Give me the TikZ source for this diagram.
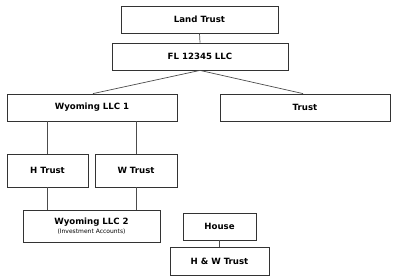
\documentclass[tikz,border=0pt]{standalone}
\usepackage{fontspec}
\setmainfont{DejaVu Sans}
\tikzset{
  entity/.style={draw=black!80, line width=0.8pt, fill=white, font=\fontsize{8.6}{10}\selectfont\bfseries, align=center, inner sep=0pt},
  link/.style={draw=black!70, line width=0.7pt}
}
\begin{document}
\begin{tikzpicture}[x=1pt, y=-1pt]
	\useasboundingbox (0, 0) rectangle (400, 279);
	\node[entity, minimum width=157pt, minimum height=27pt] (land) at (199.5, 19.5) {Land Trust};
	\node[entity, minimum width=176pt, minimum height=27pt] (fl) at (200, 56.5) {FL 12345 LLC};
	\node[entity, minimum width=170pt, minimum height=27pt] (wyo1) at (92, 107.5) {Wyoming LLC 1};
	\node[entity, minimum width=170pt, minimum height=27pt] (trust) at (305, 107.5) {Trust};
	\node[entity, minimum width=81pt, minimum height=33pt] (htrust) at (47.5, 170.5) {H Trust};
	\node[entity, minimum width=82pt, minimum height=33pt] (wtrust) at (136, 170.5) {W Trust};
	\node[entity, minimum width=137pt, minimum height=32pt] (wyo2) at (91.5, 226) {Wyoming LLC 2\\[-1pt]{\fontsize{6}{7}\selectfont\mdseries (Investment Accounts)}};
	\node[entity, minimum width=73pt, minimum height=27pt] (house) at (219.5, 226.5) {House};
	\node[entity, minimum width=99pt, minimum height=28pt] (hw) at (219.5, 261) {H \& W Trust};
	\draw[link] (land.south) -- (fl.north);
	\draw[link] (fl.south) -- ([xshift=1pt]wyo1.north);
	\draw[link] (fl.south) -- ([xshift=-2pt]trust.north);
	\draw[link] (htrust.north |- wyo1.south) -- (htrust.north);
	\draw[link] (wtrust.north |- wyo1.south) -- (wtrust.north);
	\draw[link] (htrust.south) -- (htrust.south |- wyo2.north);
	\draw[link] (wtrust.south) -- (wtrust.south |- wyo2.north);
	\draw[link] (house.south) -- (hw.north);
\end{tikzpicture}
\end{document}
